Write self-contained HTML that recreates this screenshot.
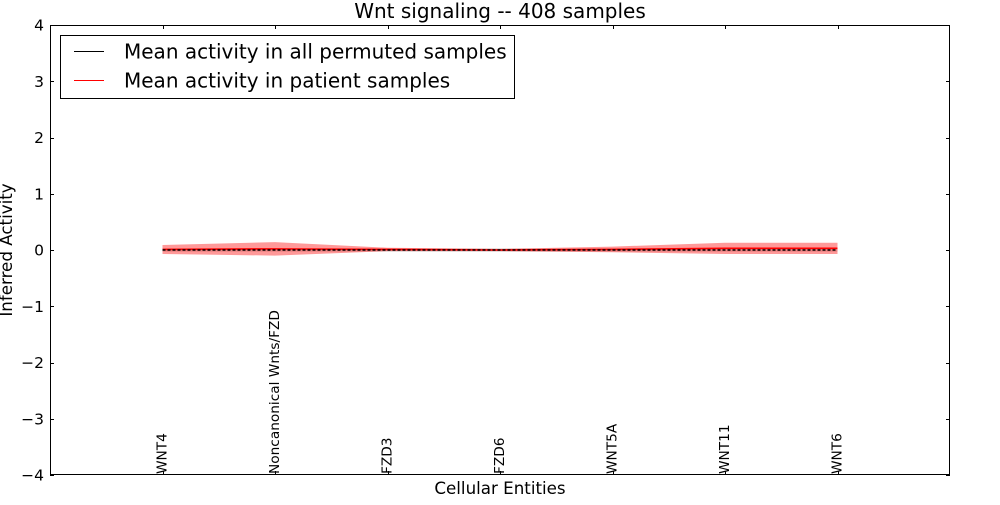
<!DOCTYPE html>
<html><head><meta charset="utf-8"><style>
html,body{margin:0;padding:0;background:#fff;}
svg text{font-family:"DejaVu Sans","Liberation Sans",sans-serif;}
</style></head><body>
<svg id="chart" width="1000" height="500" viewBox="0 0 1000 500" xmlns="http://www.w3.org/2000/svg">
<text x="500" y="18" font-size="20" text-anchor="middle">Wnt signaling -- 408 samples</text>
<g id="plot"></g>
<text x="500" y="494" font-size="16.7" text-anchor="middle">Cellular Entities</text>
<text transform="translate(12,250) rotate(-90)" font-size="16.7" text-anchor="middle">Inferred Activity</text>
<g>
<rect x="60.5" y="35.5" width="454" height="63" fill="#fff" stroke="#000"/>
<line x1="74" y1="51.5" x2="104" y2="51.5" stroke="#000"/>
<text x="124" y="58.5" font-size="20">Mean activity in all permuted samples</text>
<line x1="74" y1="80.5" x2="104" y2="80.5" stroke="#f00"/>
<text x="124" y="87.5" font-size="20">Mean activity in patient samples</text>
</g>
</svg>
<script>
const categories = ["WNT4","Noncanonical Wnts/FZD","FZD3","FZD6","WNT5A","WNT11","WNT6"];
const permMean = [0,0,0,0,0,0,0];
const permSpread = [0.03,0.03,0.03,0.03,0.03,0.03,0.03];
const patientMean = [0.01,0.02,0.01,0.0,0.01,0.03,0.03];
const patientSpread = [0.08,0.12,0.03,0.02,0.05,0.1,0.1];
const yTicks = [-4,-3,-2,-1,0,1,2,3,4];

const L=50,R=950,T=25,B=475;
const xs = i => L + (i+1)*(R-L)/8;
const ys = v => B - (v+4)*(B-T)/8;
const NS="http://www.w3.org/2000/svg";
const plot=document.getElementById('plot');
function mk(tag,attrs){const e=document.createElementNS(NS,tag);for(const k in attrs)e.setAttribute(k,attrs[k]);plot.appendChild(e);return e;}

function band(mean,spread,fill,op,name){
  let up=categories.map((c,i)=>xs(i)+","+ys(mean[i]+spread[i]));
  let dn=categories.map((c,i)=>xs(i)+","+ys(mean[i]-spread[i])).reverse();
  const p=mk('polygon',{points:up.concat(dn).join(' '),fill:fill,'fill-opacity':op,stroke:'none'});
  
  
}
band(permMean,permSpread,'#999',0.35,'permuted-band');
band(patientMean,patientSpread,'#f00',0.4,'patient-band');

const pl=mk('polyline',{points:categories.map((c,i)=>xs(i)+","+ys(patientMean[i])).join(' '),fill:'none',stroke:'#f00','stroke-width':1.6});


const bl=mk('polyline',{points:categories.map((c,i)=>xs(i)+","+ys(permMean[i])).join(' '),fill:'none',stroke:'#000','stroke-width':1.6,'stroke-dasharray':'3,2'});



const frame=mk('rect',{x:L+0.5,y:T+0.5,width:R-L-1,height:B-T-1,fill:'none',stroke:'#000'});



yTicks.forEach(v=>{
  const y=Math.round(ys(v))+0.5;
  const t1=mk('line',{x1:L,x2:L+4,y1:y,y2:y,stroke:'#000'});
  
  
  const t2=mk('line',{x1:R-4,x2:R,y1:y,y2:y,stroke:'#000'});
  
  
  const tx=mk('text',{x:L-6,y:ys(v)+5.5,'font-size':15.5,'text-anchor':'end'});
  tx.textContent=(v<0?'\u2212':'')+Math.abs(v);
  
  
});

categories.forEach((c,i)=>{
  const x=Math.round(xs(i))+0.5;
  const t1=mk('line',{x1:x,x2:x,y1:B-4,y2:B,stroke:'#000'});
  
  
  const t2=mk('line',{x1:x,x2:x,y1:T,y2:T+4,stroke:'#000'});
  
  
  const tx=mk('text',{transform:`translate(${xs(i)+4},${B-1}) rotate(-90)`,'font-size':13.7,'text-anchor':'start'});
  tx.textContent=c;
  
  
});
</script>
</body></html>
